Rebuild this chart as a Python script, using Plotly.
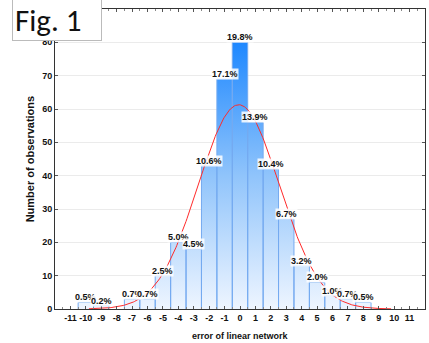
import numpy as np
import plotly.graph_objects as go

# ---- data ----
bin_centers = [-10, -9, -8, -7, -6, -5, -4, -3, -2, -1, 0, 1, 2, 3, 4, 5, 6, 7, 8]
counts = [2, 1, 0, 3, 3, 10, 20, 18, 43, 69, 80, 56, 42, 27, 13, 8, 4, 3, 2]
pct_labels = ["0.5%", "0.2%", "", "0.7%", "0.7%", "2.5%", "5.0%", "4.5%", "10.6%",
              "17.1%", "19.8%", "13.9%", "10.4%", "6.7%", "3.2%", "2.0%", "1.0%",
              "0.7%", "0.5%"]
x_ticks = list(range(-11, 12))
y_ticks = [0, 10, 20, 30, 40, 50, 60, 70, 80]

# fitted normal curve parameters (expected counts per unit bin)
n_obs = sum(counts)
fit_mean = -0.08
fit_sd = 2.63
bin_width = 1.0

fig = go.Figure()

# gradient fill under histogram (step shape built from the data)
xs, ys = [], []
for c, n in zip(bin_centers, counts):
    xs += [c - bin_width / 2, c - bin_width / 2, c + bin_width / 2, c + bin_width / 2]
    ys += [0, n, n, 0]
fig.add_trace(go.Scatter(
    x=xs, y=ys, mode="lines", line=dict(width=0), fill="tozeroy",
    fillgradient=dict(type="vertical",
                      colorscale=[[0, "#eef5ff"], [0.5, "#90c4fb"], [1, "#1e88ff"]],
                      start=0, stop=80),
    hoverinfo="skip", showlegend=False))

# bar outlines, drawn as rectangles from the data
ox, oy = [], []
for c, n in zip(bin_centers, counts):
    if n > 0:
        l, r = c - bin_width / 2, c + bin_width / 2
        ox += [l, l, r, r, None]
        oy += [0, n, n, 0, None]
fig.add_trace(go.Scatter(x=ox, y=oy, mode="lines",
                         line=dict(color="#74aaf0", width=1),
                         hoverinfo="skip", showlegend=False))

# normal fit curve
xc = np.linspace(-9.8, 9.8, 300)
yc = n_obs * bin_width / (fit_sd * np.sqrt(2 * np.pi)) * np.exp(-0.5 * ((xc - fit_mean) / fit_sd) ** 2)
fig.add_trace(go.Scatter(x=xc, y=yc, mode="lines",
                         line=dict(color="#ff2a2a", width=1), showlegend=False))

# percentage labels
for c, n, lab in zip(bin_centers, counts, pct_labels):
    if lab:
        fig.add_annotation(x=c, y=n, text="<b>%s</b>" % lab, showarrow=False, yanchor="bottom",
                           yshift=-1, font=dict(family="Arial", size=9, color="#111111"),
                           bgcolor="rgba(255,255,255,0.85)", borderpad=0)

fig.update_layout(
    width=429, height=343,
    margin=dict(l=55, r=4, t=9, b=34),
    paper_bgcolor="white", plot_bgcolor="white",
    font=dict(family="Arial", size=9, color="#111111"),
    xaxis=dict(range=[-12, 12], tickvals=x_ticks,
               ticktext=["<b>%d</b>" % v for v in x_ticks],
               tickfont=dict(family="Arial", size=9, color="#111111"),
               showgrid=False, zeroline=False, showline=True, linecolor="#333333",
               linewidth=1, mirror="ticks", ticks="inside", ticklen=3, tickcolor="#555555",
               minor=dict(ticks="inside", ticklen=2, dtick=0.5, tick0=-11.5, tickcolor="#888888"),
               automargin=False),
    yaxis=dict(range=[0, 90], tickvals=y_ticks,
               ticktext=["<b>%d</b>" % v for v in y_ticks],
               tickfont=dict(family="Arial", size=9, color="#111111"),
               showgrid=True, gridcolor="#ebebeb", gridwidth=1, zeroline=False,
               showline=True, linecolor="#333333", linewidth=1, mirror="ticks",
               ticks="inside", ticklen=3, tickcolor="#555555", automargin=False),
)

# axis titles
fig.add_annotation(xref="paper", yref="paper", x=0.5, y=-0.068, yanchor="top",
                   text="<b>error of linear network</b>", showarrow=False,
                   font=dict(family="Arial", size=9, color="#111111"))
fig.add_annotation(xref="paper", yref="paper", x=-0.045, y=0.5, xanchor="right",
                   text="<b>Number of observations</b>", showarrow=False, textangle=-90,
                   font=dict(family="Arial", size=11, color="#111111"))

# "Fig. 1" label box
fig.add_annotation(xref="paper", yref="paper", x=-0.116, y=1.033, xanchor="left", yanchor="top",
                   text="Fig. 1", showarrow=False, align="left", width=84, height=36,
                   font=dict(family="Carlito, Liberation Sans, Arial", size=31, color="#111111"),
                   bgcolor="white", bordercolor="#bbbbbb", borderwidth=1, borderpad=2)

fig.write_html("out.html", config={"displayModeBar": False},
               post_script="document.body.style.margin='0';")
